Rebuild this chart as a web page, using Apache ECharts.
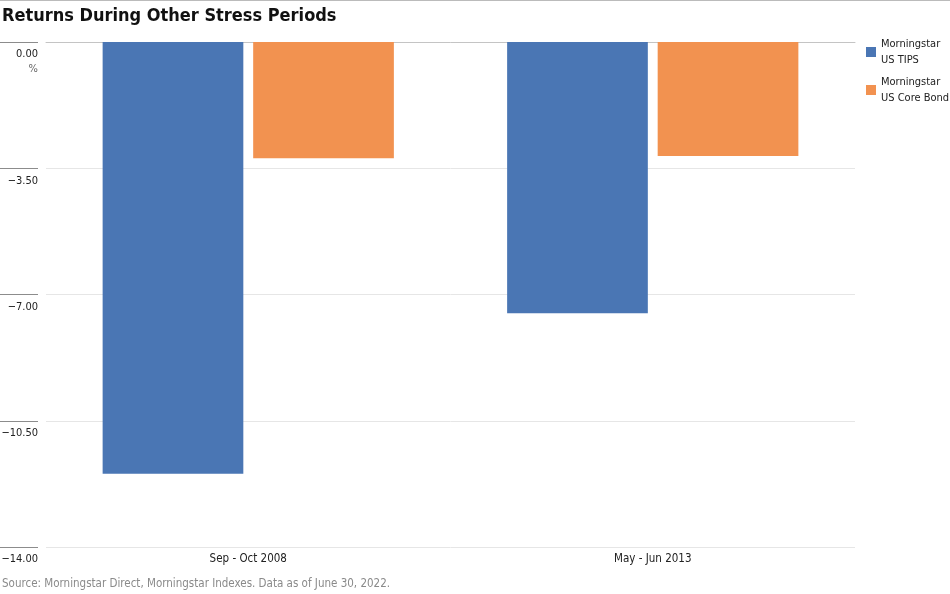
<!DOCTYPE html>
<html>
<head>
<meta charset="utf-8">
<script src="https://cdn.jsdelivr.net/npm/echarts@6/dist/echarts.min.js"></script>
<style>html,body{margin:0;padding:0;background:#fff}#c{width:950px;height:594px}</style>
</head>
<body>
<div id="c"></div>
<script>
const categories = ['Sep - Oct 2008', 'May - Jun 2013'];
const tipsValues = [-11.97, -7.52];
const coreBondValues = [-3.22, -3.16];
const seriesNames = ['Morningstar\nUS TIPS', 'Morningstar\nUS Core Bond'];
const yMin = -14, yMax = 0, yStep = 3.5;

const FONT = "'DejaVu Sans Condensed', 'Liberation Sans Narrow', 'Roboto', sans-serif";
const chart = echarts.init(document.getElementById('c'));
chart.setOption({
  animation: false,
  textStyle: { fontFamily: FONT },
  title: {
    text: 'Returns During Other Stress Periods',
    left: 2, top: 7, padding: 0,
    textStyle: { fontFamily: FONT, fontSize: 18, fontWeight: 'bold', color: '#111' }
  },
  graphic: [
    { type: 'line', shape: { x1: 0, y1: 0.5, x2: 950, y2: 0.5 }, style: { stroke: '#bbb', lineWidth: 1 } },
    { type: 'text', left: 2, top: 578, style: { text: 'Source: Morningstar Direct, Morningstar Indexes. Data as of June 30, 2022.', fill: '#8a8a8a', font: "11.5px " + FONT } }
  ],
  legend: {
    orient: 'vertical', left: 861, top: 23,
    icon: 'rect', itemWidth: 10, itemHeight: 10, itemGap: -10,
    textStyle: { fontFamily: FONT, fontSize: 11, lineHeight: 16, color: '#222', padding: [16, 0, 0, 0] },
    data: seriesNames
  },
  grid: { left: 46, right: 95, top: 42, bottom: 47, containLabel: false, outerBoundsMode: 'none' },
  xAxis: {
    type: 'category', data: categories,
    axisLine: { lineStyle: { color: '#c4c4c4' } },
    axisTick: { show: false },
    axisLabel: { color: '#222', fontSize: 11.5, margin: 6, fontFamily: FONT }
  },
  yAxis: {
    type: 'value', min: yMin, max: yMax, interval: yStep,
    offset: 8,
    axisLine: { show: false },
    axisTick: { show: true, length: 38, lineStyle: { color: '#8c8c8c' } },
    splitLine: { lineStyle: { color: '#e6e6e6' } },
    axisLabel: {
      margin: 0, color: '#222', fontSize: 11, fontFamily: FONT,
      verticalAlign: 'top', lineHeight: 15, padding: [5, 0, 0, 0],
      formatter: v => {
        const s = (v < 0 ? '\u2212' : '') + Math.abs(v).toFixed(2);
        return v === 0 ? s + '\n{p|%}' : s;
      },
      rich: { p: { color: '#666', fontSize: 11, fontFamily: FONT, lineHeight: 15 } }
    }
  },
  series: [
    { name: seriesNames[0], type: 'bar', data: tipsValues, itemStyle: { color: '#4A76B4' }, barGap: '7%', barCategoryGap: '28%' },
    { name: seriesNames[1], type: 'bar', data: coreBondValues, itemStyle: { color: '#F29250' }, barGap: '7%', barCategoryGap: '28%' }
  ]
});
</script>
</body>
</html>
